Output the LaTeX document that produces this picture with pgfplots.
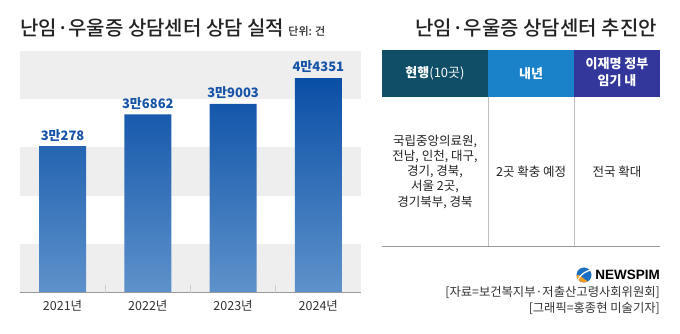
\documentclass[border=0pt]{standalone}
\usepackage{pgfplots}
\pgfplotsset{compat=1.18}
\usepackage{pgfplotstable}
\usepackage{fontspec}
\setmainfont{Noto Sans CJK KR}
\newfontfamily\titlefont{Noto Sans CJK KR Medium}
\newfontfamily\logofont{Liberation Sans}
\definecolor{barTop}{HTML}{0A4FA6}
\definecolor{barBot}{HTML}{5E92CB}
\definecolor{stripe}{HTML}{EEEEEE}
\definecolor{valblue}{HTML}{1754A8}
\definecolor{hdA}{HTML}{0F4E66}
\definecolor{hdB}{HTML}{1A82C9}
\definecolor{hdC}{HTML}{33369B}
\definecolor{txt}{HTML}{222222}
\definecolor{txtgray}{HTML}{333333}
\definecolor{logoblue}{HTML}{1A6FC0}
\definecolor{logoorange}{HTML}{F29A1F}

\pgfplotstableread{
x y label
0 30278 3만278
1 36862 3만6862
2 39003 3만9003
3 44351 4만4351
}\datatable

\begin{document}
\begin{tikzpicture}[x=1pt,y=1pt]
\path[use as bounding box] (0pt,0pt) rectangle (680pt,334pt);
\begin{axis}[
  at={(62.6pt,41.3pt)}, anchor=origin,
  scale only axis, width=341pt, height=242pt,
  xmin=-0.5, xmax=3.5, ymin=0, ymax=50000,
  clip=false, axis on top=true,
  axis x line*=bottom, axis y line=none,
  x axis line style={draw=gray!80, line width=1pt, -},
  xtick={0,1,2,3},
  xticklabels={2021년,2022년,2023년,2024년},
  major tick length=0pt,
  extra x ticks={0.5,1.5,2.5},
  extra x tick labels={},
  extra x tick style={major tick length=8pt, tick align=inside, tick style={draw=gray!40, line width=0.6pt}},
  xticklabel style={font=\fontsize{12.5}{14}\selectfont, text=txtgray, yshift=-4pt},
  ytick=\empty,
]
\addplot[fill=stripe, draw=none] coordinates {(-0.5,0) (3.5,0) (3.5,10000) (-0.5,10000)} -- cycle;
\addplot[fill=stripe, draw=none] coordinates {(-0.5,20000) (3.5,20000) (3.5,30000) (-0.5,30000)} -- cycle;
\addplot[fill=stripe, draw=none] coordinates {(-0.5,40000) (3.5,40000) (3.5,50000) (-0.5,50000)} -- cycle;
\addplot[ybar, bar width=0.553, draw=none, top color=barTop, bottom color=barBot,
  nodes near coords, point meta=explicit symbolic,
  nodes near coords style={font=\bfseries\fontsize{13}{15}\selectfont, text=valblue, anchor=south, yshift=1.5pt}]
  table[x=x, y=y, meta=label] {\datatable};
\end{axis}

% titles
\node[anchor=base west, inner sep=0pt, font=\titlefont\fontsize{20}{24}\selectfont, text=txt] at (20,298.5)
  {난임·우울증 상담센터 상담 실적\hspace{4pt}{\fontsize{11}{13}\selectfont 단위: 건}};
\node[anchor=base east, inner sep=0pt, font=\titlefont\fontsize{20}{24}\selectfont, text=txt] at (657,298.5)
  {난임·우울증 상담센터 추진안};

% table header
\fill[hdA] (381.7,237.3) rectangle (488.3,284);
\fill[hdB] (488.3,237.3) rectangle (574,284);
\fill[hdC] (574,237.3) rectangle (660,284);
\node[text=white, font=\fontsize{13}{15}\selectfont] at (435,260.7) {\textbf{현행}(10곳)};
\node[text=white, font=\bfseries\fontsize{13}{15}\selectfont] at (531.2,260.7) {내년};
\node[text=white, font=\bfseries\fontsize{13}{17}\selectfont, align=center] at (617,262.2) {이재명 정부\\임기 내};

% table body
\draw[gray!50, line width=0.8pt] (488.3,237.3) -- (488.3,87.3);
\draw[gray!50, line width=0.8pt] (574,237.3) -- (574,87.3);
\draw[gray!80, line width=1pt] (381.7,87.3) -- (660,87.3);
\node[text=txt, font=\fontsize{12.5}{15.2}\selectfont, align=center] at (435,162.3)
  {국립중앙의료원,\\전남, 인천, 대구,\\경기, 경북,\\서울 2곳,\\경기북부, 경북};
\node[text=txt, font=\fontsize{12.5}{15}\selectfont] at (531.2,162.3) {2곳 확충 예정};
\node[text=txt, font=\fontsize{12.5}{15}\selectfont] at (617,162.3) {전국 확대};

% logo
\fill[logoblue] (584,59) circle (7.5);
\fill[logoorange] (576.5,59) arc (180:300:7.5) .. controls (582,56) and (580,60) .. (576.5,59) -- cycle;
\draw[white, line width=1.2pt] (577.5,54) .. controls (581,60) and (586,63) .. (591,64);
\node[anchor=base east, inner sep=0pt, font=\logofont\bfseries\fontsize{13.5}{15}\selectfont] at (660,54) {NEWSPIM};

% sources
\node[anchor=base east, inner sep=0pt, text=txtgray, font=\fontsize{12.3}{14}\selectfont] at (660,37) {[자료=보건복지부·저출산고령사회위원회]};
\node[anchor=base east, inner sep=0pt, text=txtgray, font=\fontsize{12.3}{14}\selectfont] at (660,21.5) {[그래픽=홍종현 미술기자]};
\end{tikzpicture}
\end{document}
